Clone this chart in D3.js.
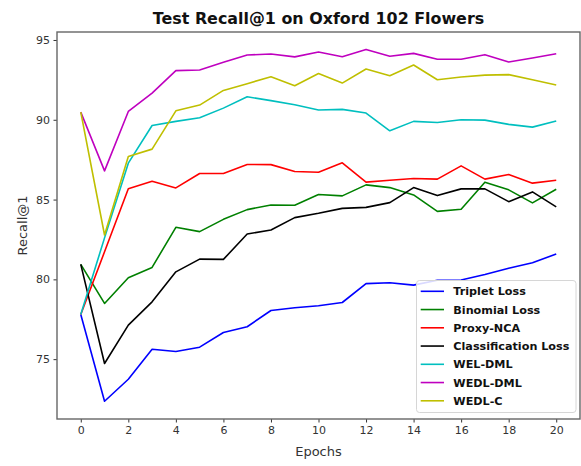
<html lang="en">
<head>
<meta charset="utf-8">
<title>Test Recall@1 on Oxford 102 Flowers</title>
<script src="https://cdn.jsdelivr.net/npm/d3@7"></script>
<style>
  body { margin: 0; background: #fff; }
  text { font-family: "DejaVu Sans", sans-serif; }
</style>
</head>
<body>
<script>
var epochs = [0, 1, 2, 3, 4, 5, 6, 7, 8, 9, 10, 11, 12, 13, 14, 15, 16, 17, 18, 19, 20];
var xTicks = [0, 2, 4, 6, 8, 10, 12, 14, 16, 18, 20];
var yTicks = [75, 80, 85, 90, 95];

var seriesNames = ["Triplet Loss", "Binomial Loss", "Proxy-NCA", "Classification Loss", "WEL-DML", "WEDL-DML", "WEDL-C"];
var seriesColors = ["#0000ff", "#008000", "#ff0000", "#000000", "#00bfbf", "#bf00bf", "#bfbf00"];

var triplet = [77.8, 72.36, 73.74, 75.62, 75.48, 75.75, 76.67, 77.03, 78.05, 78.22, 78.35, 78.55, 79.73, 79.79, 79.64, 79.94, 79.96, 80.3, 80.7, 81.04, 81.59];
var binomial = [80.94, 78.49, 80.1, 80.75, 83.26, 82.99, 83.76, 84.37, 84.66, 84.64, 85.32, 85.23, 85.92, 85.75, 85.29, 84.26, 84.39, 86.09, 85.61, 84.79, 85.65];
var proxyNCA = [77.8, 81.73, 85.68, 86.15, 85.73, 86.63, 86.63, 87.2, 87.19, 86.76, 86.71, 87.3, 86.09, 86.21, 86.32, 86.28, 87.11, 86.28, 86.57, 86.03, 86.21];
var classification = [80.94, 74.73, 77.13, 78.59, 80.47, 81.27, 81.25, 82.84, 83.09, 83.87, 84.14, 84.45, 84.51, 84.81, 85.75, 85.25, 85.67, 85.67, 84.87, 85.48, 84.54];
var welDML = [77.8, 82.6, 87.28, 89.64, 89.9, 90.13, 90.73, 91.44, 91.2, 90.94, 90.61, 90.65, 90.42, 89.31, 89.9, 89.83, 90.0, 89.98, 89.71, 89.54, 89.92];
var wedlDML = [90.48, 86.8, 90.52, 91.67, 93.08, 93.12, 93.6, 94.06, 94.12, 93.94, 94.25, 93.95, 94.41, 93.98, 94.16, 93.79, 93.79, 94.08, 93.62, 93.87, 94.14];
var wedlC = [90.48, 82.78, 87.7, 88.16, 90.56, 90.92, 91.84, 92.26, 92.7, 92.13, 92.9, 92.3, 93.18, 92.76, 93.43, 92.51, 92.68, 92.8, 92.83, 92.51, 92.18];

var allSeries = [triplet, binomial, proxyNCA, classification, welDML, wedlDML, wedlC];

var width = 581, height = 466;
var plotLeft = 57, plotRight = 580, plotTop = 32, plotBottom = 419;

var svg = d3.select("body").append("svg").attr("width", width).attr("height", height);

var x = d3.scaleLinear().domain([-1, 21]).range([plotLeft, plotRight]);
var y = d3.scaleLinear().domain([71.25, 95.5]).range([plotBottom, plotTop]);

// axes
var xAxis = d3.axisBottom(x).tickValues(xTicks).tickSize(3.5).tickPadding(3.5);
var yAxis = d3.axisLeft(y).tickValues(yTicks).tickSize(3.5).tickPadding(3.5);

var gx = svg.append("g").attr("transform", "translate(0," + plotBottom + ")").call(xAxis);
var gy = svg.append("g").attr("transform", "translate(" + plotLeft + ",0)").call(yAxis);
[gx, gy].forEach(function (g) {
    g.select(".domain").remove();
    g.selectAll(".tick line").attr("stroke", "#333").attr("stroke-width", 1);
    g.selectAll(".tick text").attr("font-size", "11px").attr("fill", "#333").style("font-family", "DejaVu Sans");
});

// lines
var line = d3.line().x(function (d, i) { return x(epochs[i]); }).y(function (d) { return y(d); });
svg.append("g").selectAll("path").data(allSeries).enter().append("path")
    .attr("d", function (d) { return line(d); })
    .attr("fill", "none")
    .attr("stroke", function (d, i) { return seriesColors[i]; })
    .attr("stroke-width", 1.6)
    .attr("stroke-linejoin", "round");

// frame
svg.append("rect").attr("x", plotLeft).attr("y", plotTop).attr("width", plotRight - plotLeft).attr("height", plotBottom - plotTop)
    .attr("fill", "none").attr("stroke", "#666").attr("stroke-width", 1.4);

// legend
var lg = svg.append("g");
lg.append("rect").attr("x", 416.5).attr("y", 280.5).attr("width", 159.5).attr("height", 132)
    .attr("rx", 3).attr("fill", "#fff").attr("fill-opacity", 0.85).attr("stroke", "#d6d6d6").attr("stroke-width", 1);
var rowY = d3.scaleLinear().domain([0, 6]).range([291.3, 400.8]);
var items = lg.selectAll("g.item").data(seriesNames).enter().append("g").attr("class", "item")
    .attr("transform", function (d, i) { return "translate(0," + rowY(i) + ")"; });
items.append("line").attr("x1", 420.7).attr("x2", 444).attr("y1", 0).attr("y2", 0)
    .attr("stroke", function (d, i) { return seriesColors[i]; }).attr("stroke-width", 1.6);
items.append("text").attr("x", 453.3).attr("y", 0).attr("dy", "0.36em")
    .attr("font-size", "11.2px").attr("font-weight", "bold").attr("fill", "#111").text(function (d) { return d; });

// title and labels
svg.append("text").attr("x", (plotLeft + plotRight) / 2).attr("y", 24).attr("text-anchor", "middle")
    .attr("font-size", "15.9px").attr("font-weight", "bold").attr("fill", "#111").text("Test Recall@1 on Oxford 102 Flowers");
svg.append("text").attr("x", (plotLeft + plotRight) / 2).attr("y", 456).attr("text-anchor", "middle")
    .attr("font-size", "13px").attr("fill", "#333").text("Epochs");
svg.append("text").attr("transform", "translate(27," + ((plotTop + plotBottom) / 2) + ") rotate(-90)").attr("text-anchor", "middle")
    .attr("font-size", "13px").attr("fill", "#333").text("Recall@1");
</script>
</body>
</html>
